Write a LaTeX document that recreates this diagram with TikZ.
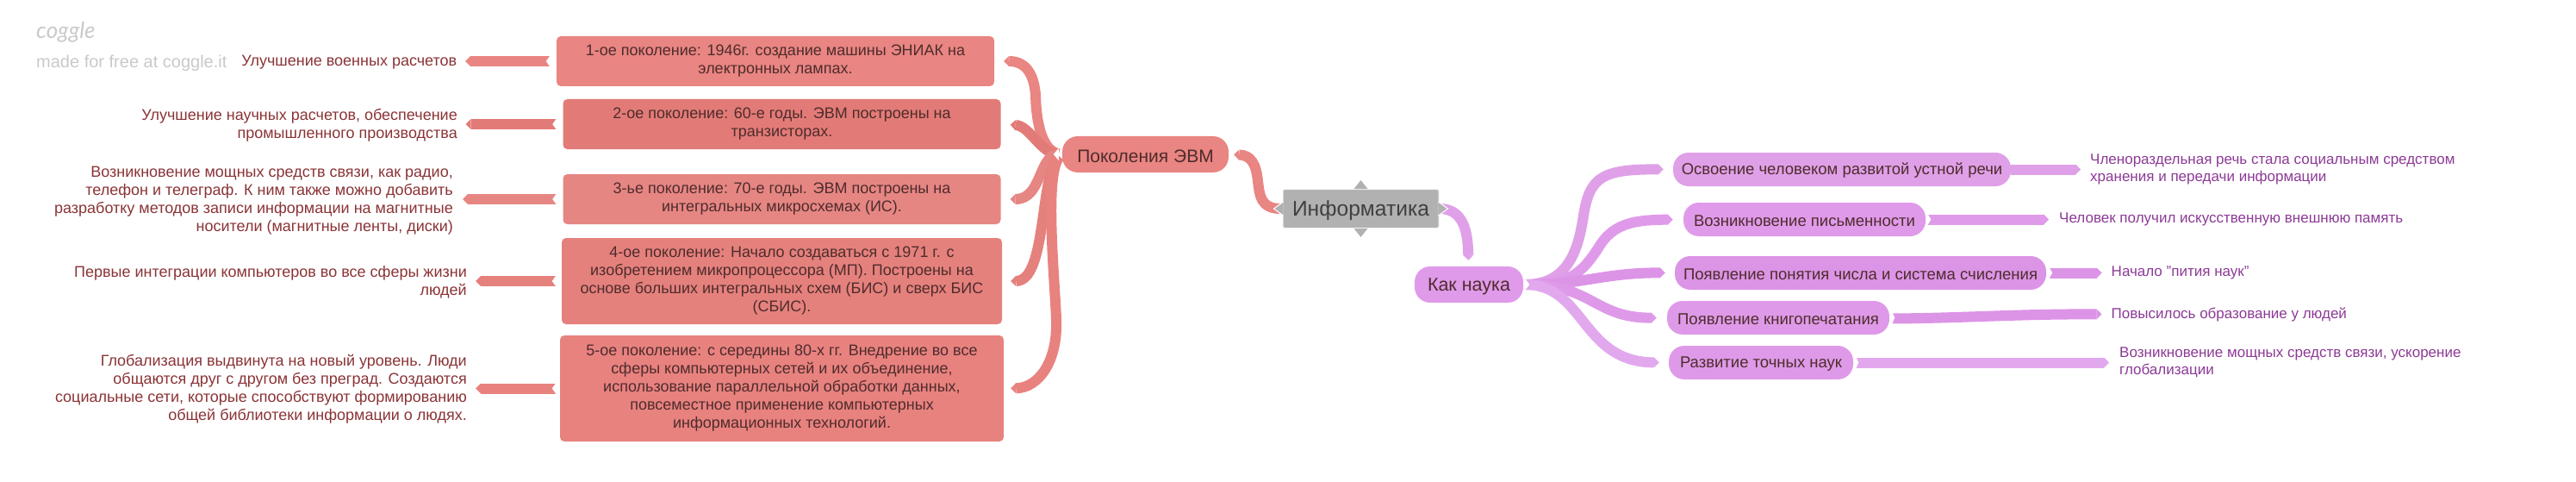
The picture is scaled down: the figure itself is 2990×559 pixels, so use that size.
\documentclass[tikz,border=0pt]{standalone}
\usepackage{fontspec}
\setmainfont{Liberation Sans}
\newfontfamily\logofont{Lato}
\usetikzlibrary{arrows.meta,calc}
\definecolor{redA}{HTML}{E98582}
\definecolor{redB}{HTML}{E27B77}
\definecolor{redC}{HTML}{E68683}
\definecolor{redD}{HTML}{E5817D}
\definecolor{redE}{HTML}{E8827F}
\definecolor{purA}{HTML}{DFA0E8}
\definecolor{purB}{HTML}{E09AEA}
\definecolor{purC}{HTML}{DC94E6}
\definecolor{purD}{HTML}{DE9AE8}
\definecolor{purE}{HTML}{E2A8EE}
\definecolor{boxtext}{HTML}{4E2C2C}
\definecolor{lefttext}{HTML}{8A3336}
\definecolor{righttext}{HTML}{8C3A96}
\definecolor{centre}{HTML}{B1B1B1}
\definecolor{logo}{HTML}{C9C9C9}
\tikzset{
  box/.style={rounded corners=5pt,inner sep=0pt,align=center,text=boxtext,font=\fontsize{18}{21}\selectfont,execute at begin node={\rule{0pt}{1em}}},
  pill/.style={rounded corners=18pt,inner sep=0pt,align=center,text=boxtext,execute at begin node={\rule{0pt}{.9em}}},
  leftnote/.style={anchor=east,inner sep=0pt,align=right,text=lefttext,font=\fontsize{18}{21}\selectfont,yshift=-1.5pt},
  rightnote/.style={anchor=west,inner sep=0pt,align=left,text=righttext,font=\fontsize{17}{20.3}\selectfont,yshift=-1.5pt},
  band/.style={line width=#1,-{Triangle[length=6pt,width=#1,line width=0pt]}},
  band/.default=12pt
}
\newcommand{\nch}[3]{\fill[white] ($(#1)+(#2,-7)$) -- ($(#1)+(#2+#3,0)$) -- ($(#1)+(#2,7)$) -- cycle;}
\begin{document}
\begin{tikzpicture}[x=1pt,y=-1pt]
\useasboundingbox (0,0) rectangle (2990,559);
% boxes
\node[box,fill=redA,minimum width=508pt,minimum height=58pt] (b1) at (900,71) {1-ое поколение: 1946г. создание машины ЭНИАК на\\электронных лампах.};
\node[box,fill=redB,minimum width=508pt,minimum height=58pt] (b2) at (907.5,144) {2-ое поколение: 60-е годы. ЭВМ построены на\\транзисторах.};
\node[box,fill=redC,minimum width=508pt,minimum height=58pt] (b3) at (907.5,231) {3-ье поколение: 70-е годы. ЭВМ построены на\\интегральных микросхемах (ИС).};
\node[box,fill=redD,minimum width=511pt,minimum height=100pt] (b4) at (907.5,326) {4-ое поколение: Начало создаваться с 1971 г. с\\изобретением микропроцессора (МП). Построены на\\основе больших интегральных схем (БИС) и сверх БИС\\(СБИС).};
\node[box,fill=redE,minimum width=515pt,minimum height=123pt] (b5) at (907.5,450.5) {5-ое поколение: с середины 80-х гг. Внедрение во все\\сферы компьютерных сетей и их объединение,\\использование параллельной обработки данных,\\повсеместное применение компьютерных\\информационных технологий.};
% left notes
\node[leftnote] (l1) at (530.5,71) {Улучшение военных расчетов};
\node[leftnote] (l2) at (531,144) {Улучшение научных расчетов, обеспечение\\промышленного производства};
\node[leftnote] (l3) at (526,231) {Возникновение мощных средств связи, как радио,\\телефон и телеграф. К ним также можно добавить\\разработку методов записи информации на магнитные\\носители (магнитные ленты, диски)};
\node[leftnote] (l4) at (542,326) {Первые интеграции компьютеров во все сферы жизни\\людей};
\node[leftnote] (l5) at (542,450) {Глобализация выдвинута на новый уровень. Люди\\общаются друг с другом без преград. Создаются\\социальные сети, которые способствуют формированию\\общей библиотеки информации о людях.};
% left bands
\draw[band,redA,shorten <=7pt,shorten >=9.5pt] (b1.west) -- (l1.east |- b1.west);
\draw[band,redB,shorten <=7pt,shorten >=9.5pt] (b2.west) -- (l2.east |- b2.west);
\draw[band,redC,shorten <=7pt,shorten >=11pt] (b3.west) -- (l3.east |- b3.west);
\draw[band,redD,shorten <=6pt,shorten >=10pt] (b4.west) -- (l4.east |- b4.west);
\draw[band,redE,shorten <=4pt,shorten >=10pt] (b5.west) -- (l5.east |- b5.west);
\nch{b1.west}{-7}{-5}
\nch{b2.west}{-7}{-5}
\nch{b3.west}{-7}{-5}
\nch{b4.west}{-6}{-5}
\nch{b5.west}{-4}{-5}
% main nodes
\node[pill,fill=redA,minimum width=193pt,minimum height=42pt,font=\fontsize{21}{26}\selectfont] (pk) at (1329.5,179) {Поколения ЭВМ};
\node[rounded corners=2pt,inner sep=0pt,fill=centre,draw=white!85!centre,line width=1pt,minimum width=181pt,minimum height=45pt,text=black!75,font=\fontsize{24.6}{30}\selectfont,execute at begin node={\rule{0pt}{.9em}}] (inf) at (1579.5,242) {Информатика};
\node[pill,fill=purB,minimum width=126pt,minimum height=42pt,font=\fontsize{21.5}{26}\selectfont] (kn) at (1705,330) {Как наука};
% generation bands
\begin{scope}[shorten >=11pt,shorten <=4pt]
\draw[band,redA] (pk.west) .. controls (1212,175) and (1203,150) .. (1202,110) .. controls (1200,85) and (1190,71) .. (b1.east);
\draw[band,redB,shorten >=11pt] (pk.west) .. controls (1208,179) and (1196,146) .. (b2.east);
\draw[band,redC] (pk.west) .. controls (1205,179) and (1210,231) .. (b3.east);
\draw[band,redD,shorten >=10pt] (pk.west) .. controls (1206,200) and (1216,326) .. (b4.east);
\draw[band,redE,shorten >=8pt] (pk.west) .. controls (1212,200) and (1224,320) .. (1226,370) .. controls (1228,420) and (1205,450) .. (b5.east);
\end{scope}
\nch{pk.west}{-4}{-6}
\draw[band,redA,shorten >=6pt] (inf.west) .. controls (1462,243) and (1462,225) .. (1460,210) .. controls (1458,190) and (1452,180) .. (pk.east);
\draw[band,purA,shorten >=7pt] (inf.east) .. controls (1695,242) and (1703,262) .. (1704,290) -- (kn.north);
% centre points
\fill[centre] (inf.north) ++(-8,0) -- ++(8,-10) -- ++(8,10) -- cycle;
\fill[centre] (inf.south) ++(-8,0) -- ++(8,10) -- ++(8,-10) -- cycle;
\filldraw[fill=centre,draw=white,line width=1pt] (inf.west) ++(1,-8) -- ++(-11,8) -- ++(11,8);
\filldraw[fill=centre,draw=white,line width=1pt] (inf.east) ++(-1,-8) -- ++(11,8) -- ++(-11,8);
% right nodes
\node[pill,fill=purA,minimum width=392pt,minimum height=39pt,font=\fontsize{18.5}{22}\selectfont] (n1) at (2138,196.5) {Освоение человеком развитой устной речи};
\node[pill,fill=purB,minimum width=281pt,minimum height=39pt,font=\fontsize{18.5}{22}\selectfont] (n2) at (2094.5,254.5) {Возникновение письменности};
\node[pill,fill=purC,minimum width=431pt,minimum height=39pt,font=\fontsize{18.5}{22}\selectfont] (n3) at (2159.5,316.5) {Появление понятия числа и система счисления};
\node[pill,fill=purD,minimum width=258pt,minimum height=39pt,font=\fontsize{18.5}{22}\selectfont] (n4) at (2064,368.5) {Появление книгопечатания};
\node[pill,fill=purD,minimum width=214pt,minimum height=39pt,font=\fontsize{18.5}{22}\selectfont] (n5) at (2044,420.5) {Развитие точных наук};
% right notes
\node[rightnote] (r1) at (2426,195) {Членораздельная речь стала социальным средством\\хранения и передачи информации};
\node[rightnote] (r2) at (2390,253) {Человек получил искусственную внешнюю память};
\node[rightnote] (r3) at (2450.5,315) {Начало "пития наук"};
\node[rightnote] (r4) at (2450.5,363) {Повысилось образование у людей};
\node[rightnote] (r5) at (2460,419) {Возникновение мощных средств связи, ускорение\\глобализации};
% right bands
\draw[band,purA,shorten >=11pt] (n1.east) -- (r1.west |- n1.east);
\draw[band,purB,shorten <=2pt,shorten >=12pt] (n2.east) -- (r2.west |- n2.east);
\draw[band,purC,shorten <=3pt,shorten >=11pt] (n3.east) -- (r3.west |- n3.east);
\draw[band,purC,shorten <=3pt,shorten >=11pt] (n4.east) ++(0,1) .. controls (2280,369) and (2340,364) .. (r4.west);
\draw[band,purE,shorten <=3pt,shorten >=12pt] (n5.east) -- (r5.west |- n5.east);
\nch{n2.east}{2}{4}
\nch{n3.east}{3}{4}
\nch{n4.east}{3}{3}
\nch{n5.east}{3}{3}
% science branches
\begin{scope}[shorten <=2pt]
\draw[band,purA,shorten >=11pt] (kn.east) .. controls (1820,330) and (1832,290) .. (1838,250) .. controls (1845,205) and (1860,196) .. (n1.west);
\draw[band,purB,shorten >=12pt] (kn.east) .. controls (1820,330) and (1835,320) .. (1858,283) .. controls (1875,258) and (1900,255) .. (n2.west);
\draw[band,purC,shorten >=11pt] (kn.east) .. controls (1830,332) and (1860,316) .. (n3.west);
\draw[band,purD,shorten >=12pt] (kn.east) .. controls (1850,330) and (1850,369) .. (n4.west);
\draw[band,purE,shorten >=11pt] (kn.east) .. controls (1840,330) and (1835,420) .. (n5.west);
\end{scope}
\nch{kn.east}{2}{5}
% logo
\node[anchor=west,inner sep=0pt,text=logo,font=\logofont\itshape\fontsize{26}{30}\selectfont] (lg) at (42,37) {coggle};
\node[anchor=west,inner sep=0pt,text=logo,font=\fontsize{20}{24}\selectfont] (mf) at (42,73) {made for free at coggle.it};
\end{tikzpicture}
\end{document}
